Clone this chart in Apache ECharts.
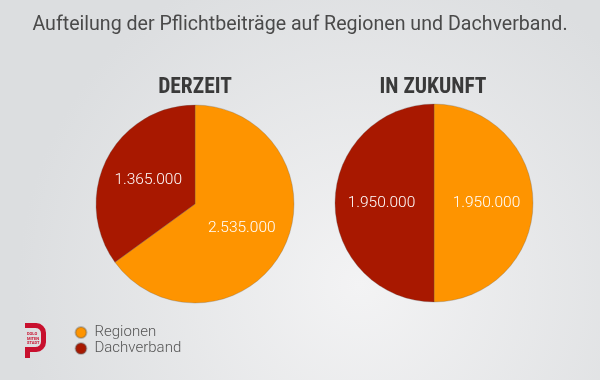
<!DOCTYPE html>
<html>
<head>
<meta charset="utf-8">
<script src="https://cdn.jsdelivr.net/npm/echarts@6/dist/echarts.min.js"></script>
<style>
html,body{margin:0;padding:0;}
#c{width:600px;height:380px;}
</style>
</head>
<body>
<div id="c"></div>
<script>
const mainTitle = 'Aufteilung der Pflichtbeiträge auf Regionen und Dachverband.';
const categories = ['Regionen', 'Dachverband'];
const pieTitles = ['DERZEIT', 'IN ZUKUNFT'];
const derzeit = [2535000, 1365000];
const zukunft = [1950000, 1950000];
const colors = ['#fe9400', '#a81800'];

function fmt(v) {
  return String(Math.round(v)).replace(/\B(?=(\d{3})+(?!\d))/g, '.');
}

const chart = echarts.init(document.getElementById('c'), null, {renderer: 'canvas'});

function pieSeries(name, values, center) {
  return {
    type: 'pie',
    name: name,
    center: center,
    radius: 99,
    startAngle: 90,
    clockwise: true,
    silent: true,
    animation: false,
    itemStyle: {borderColor: 'rgba(90,90,90,0.35)', borderWidth: 0.8},
    label: {
      show: true,
      position: 'inside',
      color: '#ffffff',
      fontFamily: 'Roboto',
      fontWeight: 300,
      fontSize: 15.5,
      formatter: p => fmt(p.value)
    },
    labelLine: {show: false},
    emphasis: {disabled: true},
    data: categories.map((c, i) => ({name: c, value: values[i], itemStyle: {color: colors[i]}}))
  };
}

chart.setOption({
  backgroundColor: {
    type: 'radial', x: 0.6, y: 0.75, r: 0.9,
    colorStops: [{offset: 0, color: '#f3f3f4'}, {offset: 1, color: '#dcdee0'}]
  },
  color: colors,
  title: [
    {text: mainTitle, left: 'center', top: 15, padding: 0,
     textStyle: {fontFamily: 'Roboto', fontWeight: 'normal', fontSize: 19.6, color: '#4a4a4a'}},
    {text: pieTitles[0], left: 195, top: 77, textAlign: 'center', padding: 0,
     textStyle: {fontFamily: 'Roboto Condensed, Roboto', fontWeight: 'bold', fontSize: 21.5, color: '#3a3a3a'}},
    {text: pieTitles[1], left: 433, top: 77, textAlign: 'center', padding: 0,
     textStyle: {fontFamily: 'Roboto Condensed, Roboto', fontWeight: 'bold', fontSize: 21.5, color: '#3a3a3a'}}
  ],
  legend: {
    orient: 'vertical',
    left: 69.5, top: 319.5,
    icon: 'circle',
    itemWidth: 17, itemHeight: 11, itemGap: 0,
    selectedMode: false,
    textStyle: {fontFamily: 'Roboto', fontWeight: 300, fontSize: 15, lineHeight: 16, color: '#555'},
    data: categories
  },
  graphic: [
    {type: 'polyline', silent: true,
     shape: {points: [[25,325.5],[36,325.5],[39,326.1],[41.3,327.7],[42.9,330],[43.5,333],[43.5,342],[42.9,345],[41.3,347.3],[39,348.9],[36,349.5],[27.5,349.5],[27.5,358]]},
     style: {fill: null, stroke: '#c8102e', lineWidth: 5, lineJoin: 'miter'}},
    {type: 'text', silent: true, left: 27, top: 332,
     style: {text: 'DOLO\nMITEN\nSTADT', fill: '#c8102e', font: 'bold 4px Roboto', lineHeight: 4.5}}
  ],
  series: [
    pieSeries(pieTitles[0], derzeit, [195, 204]),
    pieSeries(pieTitles[1], zukunft, [434, 203])
  ]
});
</script>
</body>
</html>
